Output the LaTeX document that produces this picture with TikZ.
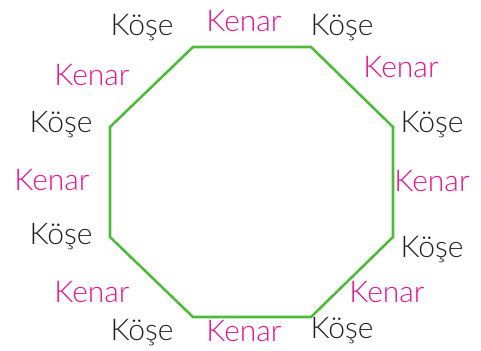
\documentclass[tikz,border=0pt]{standalone}
\usepackage{fontspec}
\setmainfont{Lato}[UprightFont=* Light]
\definecolor{edgegreen}{RGB}{76,188,56}
\definecolor{kenarpink}{RGB}{232,18,140}
\definecolor{koseblack}{RGB}{35,31,32}
\begin{document}
\begin{tikzpicture}[x=0.75pt, y=-0.75pt,
    kose/.style={text=koseblack, font=\fontsize{22.5}{26}\selectfont, inner sep=0pt},
    kenar/.style={text=kenarpink, font=\fontsize{22.5}{26}\selectfont, inner sep=0pt}]
    \useasboundingbox (0,0) rectangle (481,350);

    % Octagon corners
    \coordinate (v1) at (193,47);
    \coordinate (v2) at (311,47);
    \coordinate (v3) at (393,127);
    \coordinate (v4) at (393,237);
    \coordinate (v5) at (311,317);
    \coordinate (v6) at (193,317);
    \coordinate (v7) at (110,237);
    \coordinate (v8) at (110,127);

    % Octagon
    \draw[edgegreen, line width=1.9pt, line join=miter]
        (v1) -- (v2) -- (v3) -- (v4) -- (v5) -- (v6) -- (v7) -- (v8) -- cycle;

    % Corner labels
    \node[kose] (k1) at (142,28) {Köşe};
    \node[kose] (k2) at (342,28) {Köşe};
    \node[kose] (k3) at (432,125) {Köşe};
    \node[kose] (k4) at (432,250) {Köşe};
    \node[kose] (k5) at (342,331) {Köşe};
    \node[kose] (k6) at (142,333) {Köşe};
    \node[kose] (k7) at (61,237) {Köşe};
    \node[kose] (k8) at (61,125) {Köşe};

    % Edge labels
    \node[kenar] (e1) at (244,21) {Kenar};
    \node[kenar] (e2) at (401,67) {Kenar};
    \node[kenar] (e3) at (432,181) {Kenar};
    \node[kenar] (e4) at (387,292) {Kenar};
    \node[kenar] (e5) at (244,331) {Kenar};
    \node[kenar] (e6) at (92,292) {Kenar};
    \node[kenar] (e7) at (52,180) {Kenar};
    \node[kenar] (e8) at (92,75) {Kenar};
\end{tikzpicture}
\end{document}
